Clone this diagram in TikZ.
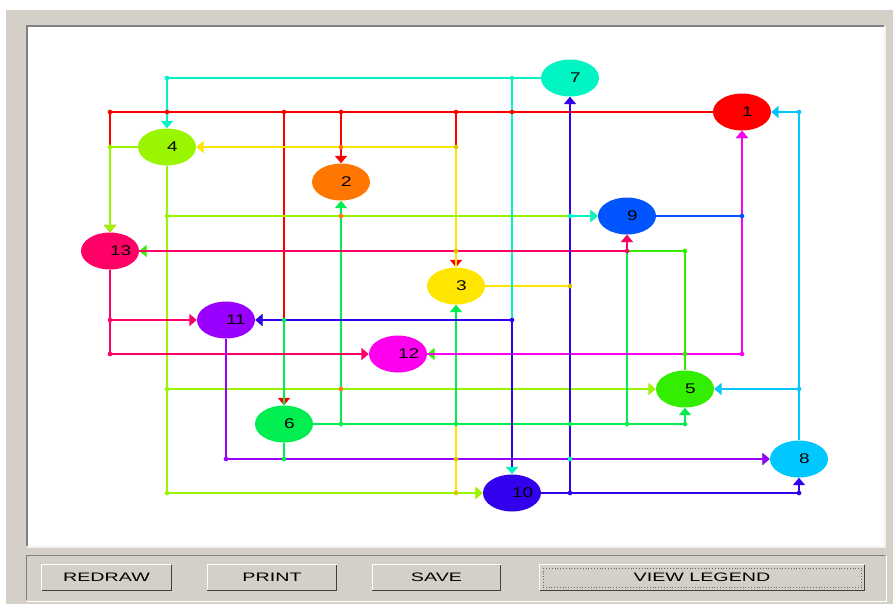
\documentclass[tikz,border=0pt]{standalone}
\usepackage{fontspec}
\usepackage{tikz}
\usetikzlibrary{arrows.meta,shapes.geometric}
\newfontfamily\vertexfont[FakeStretch=1.35]{Liberation Sans}
\newfontfamily\buttonfont[FakeStretch=1.6]{Liberation Sans}
\definecolor{panelgray}{HTML}{D4D0C8}
\definecolor{edgedark}{HTML}{808080}
\definecolor{edgelight}{HTML}{F4F3EF}
\definecolor{nodered}{HTML}{FF0000}
\definecolor{nodeorange}{HTML}{FF7700}
\definecolor{nodeyellow}{HTML}{FFE600}
\definecolor{nodelime}{HTML}{99F500}
\definecolor{nodegreen}{HTML}{33EE00}
\definecolor{nodespring}{HTML}{00EE50}
\definecolor{nodeaqua}{HTML}{00F5C3}
\definecolor{nodesky}{HTML}{00C8FF}
\definecolor{nodeblue}{HTML}{0055FF}
\definecolor{nodeindigo}{HTML}{3300EE}
\definecolor{nodeviolet}{HTML}{9900FF}
\definecolor{nodemagenta}{HTML}{FF00EE}
\definecolor{noderose}{HTML}{FF0066}
\newcommand\vlabel[1]{\makebox[0pt][l]{#1}}
\tikzset{
  vertex/.style={ellipse,inner sep=0pt,minimum width=1.74cm,minimum height=1.11cm,
                 font=\vertexfont\fontsize{12}{12}\selectfont},
  link/.style={line width=1.3pt,-{Triangle[length=2.2mm,width=3.6mm]}},
  jdot/.style={line width=0pt},
  button/.style={fill=panelgray,minimum height=0.75cm,inner sep=0pt,
                 font=\buttonfont\fontsize{10.5}{10.5}\selectfont}
}

\begin{document}
\begin{tikzpicture}[x=0.03cm,y=-0.03cm]
    \useasboundingbox (0,0) rectangle (893,604);
    \fill[white] (0,0) rectangle (893,604);
    \fill[panelgray] (6,10) rectangle (893,604);
    \fill[white] (27,26) rectangle (884,546);
    \draw[edgedark,line width=1.5pt] (27,546) |- (884,26);
    \draw[edgelight,line width=1.2pt] (27,547) -| (885,26);
    \draw[edgedark,line width=0.8pt] (26,600) |- (885,555);
    \draw[white,line width=0.8pt] (27,601) -| (886,556);

    \node[vertex,fill=nodeaqua] (n7) at (570,78) {\vlabel{7}};
    \node[vertex,fill=nodered] (n1) at (742,112) {\vlabel{1}};
    \node[vertex,fill=nodelime] (n4) at (167,147) {\vlabel{4}};
    \node[vertex,fill=nodeorange] (n2) at (341,182) {\vlabel{2}};
    \node[vertex,fill=nodeblue] (n9) at (627,216) {\vlabel{9}};
    \node[vertex,fill=noderose] (n13) at (110,251) {\vlabel{13}};
    \node[vertex,fill=nodeyellow] (n3) at (456,286) {\vlabel{3}};
    \node[vertex,fill=nodeviolet] (n11) at (226,320) {\vlabel{11}};
    \node[vertex,fill=nodemagenta] (n12) at (398,354) {\vlabel{12}};
    \node[vertex,fill=nodegreen] (n5) at (685,389) {\vlabel{5}};
    \node[vertex,fill=nodespring] (n6) at (284,424) {\vlabel{6}};
    \node[vertex,fill=nodesky] (n8) at (799,459) {\vlabel{8}};
    \node[vertex,fill=nodeindigo] (n10) at (512,493) {\vlabel{10}};

    \draw[link,draw=nodered] (n1.west) -| (n13.north);
    \draw[link,draw=nodered] (n1.west) -| (n6.north);
    \draw[link,draw=nodered] (n1.west) -| (n2.north);
    \draw[link,draw=nodered] (n1.west) -| (n3.north);
    \draw[link,draw=nodeyellow] (n3.south) |- (n10.west);
    \draw[link,draw=nodeyellow] (n3.east) -| (n7.south);
    \draw[link,draw=nodeyellow] (n3.north) |- (n4.east);
    \draw[link,draw=nodelime] (n4.west) -| (n13.north);
    \draw[link,draw=nodelime] (n4.south) |- (n9.west);
    \draw[link,draw=nodelime] (n4.south) |- (n5.west);
    \draw[link,draw=nodelime] (n4.south) |- (n10.west);
    \draw[link,draw=nodeaqua] (n7.west) -| (n4.north);
    \draw[link,draw=nodeaqua] (n7.west) -| (n10.north);
    \draw[link,draw=nodeaqua] (n7.south) |- (n9.west);
    \draw[link,draw=nodegreen] (n5.north) |- (n13.east);
    \draw[link,draw=nodegreen] (n5.north) |- (n12.east);
    \draw[link,draw=nodespring] (n6.east) -| (n2.south);
    \draw[link,draw=nodespring] (n6.east) -| (n3.south);
    \draw[link,draw=nodespring] (n6.east) -| (n9.south);
    \draw[link,draw=nodespring] (n6.east) -| (n5.south);
    \draw[link,draw=nodespring] (n6.north) |- (n11.east);
    \draw[link,draw=nodespring] (n6.south) |- (n8.west);
    \draw[link,draw=noderose] (n13.east) -| (n9.south);
    \draw[link,draw=noderose] (n13.south) |- (n11.west);
    \draw[link,draw=noderose] (n13.south) |- (n12.west);
    \draw[link,draw=nodeblue] (n9.east) -| (n1.south);
    \draw[link,draw=nodemagenta] (n12.east) -| (n1.south);
    \draw[link,draw=nodeviolet] (n11.south) |- (n8.west);
    \draw[link,draw=nodeindigo] (n10.east) -| (n7.south);
    \draw[link,draw=nodeindigo] (n10.east) -| (n8.south);
    \draw[link,draw=nodeindigo,shorten <=2.2mm] (n10.north) |- (n11.east);
    \draw[link,draw=nodesky] (n8.north) |- (n1.east);
    \draw[link,draw=nodesky] (n8.north) |- (n5.east);

    \foreach \p in {(110,112),(167,112),(284,112),(341,112),(456,112),(512,112)}
      \fill[nodered] \p circle (2pt);
    \foreach \p in {(167,78),(512,78),(570,216),(570,459)}
      \fill[nodeaqua] \p circle (2pt);
    \foreach \p in {(110,147),(167,216),(167,389),(167,493)}
      \fill[nodelime] \p circle (2pt);
    \foreach \p in {(341,147),(341,216),(341,389)}
      \fill[nodeorange] \p circle (2pt);
    \foreach \p in {(456,147),(456,251),(570,286),(456,459),(456,493)}
      \fill[nodeyellow!85!black] \p circle (2pt);
    \foreach \p in {(110,320),(110,354),(627,251)}
      \fill[noderose] \p circle (2pt);
    \foreach \p in {(685,251),(685,354)}
      \fill[nodegreen] \p circle (2pt);
    \foreach \p in {(284,320),(284,459),(341,424),(456,424),(570,424),(627,424),(685,424)}
      \fill[nodespring] \p circle (2pt);
    \fill[nodemagenta] (742,354) circle (2pt);
    \fill[nodeblue] (742,216) circle (2pt);
    \fill[nodeviolet] (226,459) circle (2pt);
    \foreach \p in {(512,320),(570,493),(799,493)}
      \fill[nodeindigo] \p circle (2pt);
    \foreach \p in {(799,112),(799,389)}
      \fill[nodesky] \p circle (2pt);

    \node[button,minimum width=3.87cm] (redraw) at (106.5,577.5) {REDRAW};
    \node[button,minimum width=3.87cm] (print) at (272,577.5) {PRINT};
    \node[button,minimum width=3.84cm] (save) at (436.5,577.5) {SAVE};
    \node[button,minimum width=9.72cm] (legend) at (702,577.5) {VIEW LEGEND};
    \foreach \b in {redraw,print,save,legend} {
      \draw[white,line width=1pt] (\b.south west) |- (\b.north east);
      \draw[black!75,line width=1.2pt] (\b.south west) -| (\b.north east);
    }
    \draw[black!60,dotted] ([shift={(3,3)}]legend.north west)
      rectangle ([shift={(-3,-3)}]legend.south east);
  \end{tikzpicture}
\end{document}
